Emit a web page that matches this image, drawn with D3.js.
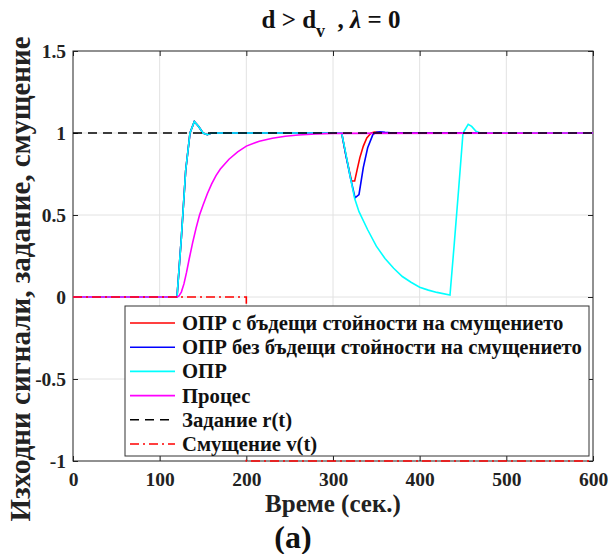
<!DOCTYPE html>
<html><head><meta charset="utf-8">
<script src="https://cdn.jsdelivr.net/npm/d3@7"></script>
<style>
html,body{margin:0;padding:0;background:#fff;}
</style></head>
<body><svg id="c" width="608" height="554"></svg>
<script>
// ---- data ----
const xTicks = [0,100,200,300,400,500,600];
const yTicks = [-1,-0.5,0,0.5,1,1.5];
const yTickLabels = ["-1","-0.5","0","0.5","1","1.5"];
const seriesNames = ["ОПР с бъдещи стойности на смущението","ОПР без бъдещи стойности на смущението","ОПР","Процес","Задание r(t)","Смущение v(t)"];

const redT  = [0,120,125,130,135,140,145,150,155,160,310,315,321.5,325,328,331,335,339,344,348,355,365,600];
const redV  = [0,0,0.36,0.77,1.0,1.07,1.04,1.0,0.99,1.0,1.0,0.86,0.707,0.707,0.78,0.85,0.92,0.97,1.0,1.005,1.002,1.0,1.0];
const blueT = [0,120,125,130,135,140,145,150,155,160,310,315,320,325.4,330,335,340,346,350,354,360,370,600];
const blueV = [0,0,0.36,0.77,1.0,1.07,1.04,1.0,0.99,1.0,1.0,0.86,0.73,0.605,0.625,0.79,0.91,0.99,1.005,1.008,1.004,1.0,1.0];
const cyanT = [0,120,125,130,135,140,145,150,155,160,310,315,320,325,330,340,350,360,370,380,390,400,410,420,435,440,445,450,456,460,465,470,475,600];
const cyanV = [0,0,0.36,0.77,1.0,1.07,1.04,1.0,0.99,1.0,1.0,0.87,0.73,0.6,0.52,0.41,0.31,0.235,0.175,0.125,0.09,0.06,0.042,0.028,0.012,0.33,0.66,1.0,1.053,1.04,1.01,1.0,1.0,1.0];
const procT = [0,120,122,125,128,131,134,138,142,146,150,155,160,165,170,180,190,200,215,230,245,260,280,300,600];
const procV = [0,0,0.005,0.03,0.08,0.15,0.23,0.33,0.42,0.5,0.56,0.63,0.69,0.74,0.78,0.84,0.885,0.92,0.95,0.968,0.98,0.988,0.994,0.998,1];
const refT  = [0,600];
const refV  = [1,1];
const distT = [0,200,200,600];
const distV = [0,0,-1,-1];

const FONT = "Liberation Serif";

// ---- layout ----
const svg = d3.select("#c");
const L = 73, T = 51, W = 520, H = 410;
const x = d3.scaleLinear().domain([0,600]).range([L, L+W]);
const y = d3.scaleLinear().domain([-1,1.5]).range([T+H, T]);

// grid
const g = svg.append("g");
g.selectAll(".gx").data(xTicks.slice(1,-1)).join("line")
  .attr("x1",d=>x(d)).attr("x2",d=>x(d)).attr("y1",T).attr("y2",T+H)
  .attr("stroke","#e2e2e2").attr("stroke-width",1);
g.selectAll(".gy").data(yTicks.slice(1,-1)).join("line")
  .attr("y1",d=>y(d)).attr("y2",d=>y(d)).attr("x1",L).attr("x2",L+W)
  .attr("stroke","#e2e2e2").attr("stroke-width",1);

const mk = (ts, vs) => ts.map((t,i)=>[t,vs[i]]);
const line = d3.line().x(d=>x(d[0])).y(d=>y(d[1]));
const series = [
  {d:mk(redT,redV), c:"#ff0000", dash:null},
  {d:mk(blueT,blueV), c:"#0000ff", dash:null},
  {d:mk(cyanT,cyanV), c:"#00ffff", dash:null},
  {d:mk(procT,procV), c:"#ff00ff", dash:null},
  {d:mk(refT,refV), c:"#000000", dash:"9,6"},
  {d:mk(distT,distV), c:"#ff0000", dash:"9,4,2,4"}
];

// axes
const fmt = (d)=>yTickLabels[yTicks.indexOf(d)];
const ax = svg.append("g").attr("transform",`translate(0,${T+H})`)
  .call(d3.axisBottom(x).tickValues(xTicks).tickSizeInner(-5).tickSizeOuter(0).tickFormat(d3.format("d")));
const axTop = svg.append("g").attr("transform",`translate(0,${T})`)
  .call(d3.axisTop(x).tickValues(xTicks).tickSizeInner(-5).tickSizeOuter(0).tickFormat(""));
const ay = svg.append("g").attr("transform",`translate(${L},0)`)
  .call(d3.axisLeft(y).tickValues(yTicks).tickSizeInner(-5).tickSizeOuter(0).tickFormat(fmt));
const ayR = svg.append("g").attr("transform",`translate(${L+W},0)`)
  .call(d3.axisRight(y).tickValues(yTicks).tickSizeInner(-5).tickSizeOuter(0).tickFormat(""));
[ax,axTop,ay,ayR].forEach(a=>{
  a.attr("font-family",FONT).attr("font-weight","bold");
  a.select(".domain").remove();
  a.selectAll("line").attr("stroke","#222");
});
ax.selectAll("text").attr("font-size",19.5).attr("y",25).attr("dy",0).attr("fill","#222");
ay.selectAll("text").attr("font-size",19.5).attr("x",-7).attr("dy","0.35em").attr("fill","#222");
svg.append("rect").attr("x",L).attr("y",T).attr("width",W).attr("height",H)
  .attr("fill","none").attr("stroke","#222").attr("stroke-width",1);

const plot = svg.append("g");
series.forEach(s=>{
  plot.append("path").attr("d",line(s.d)).attr("fill","none")
    .attr("stroke",s.c).attr("stroke-width",1.6)
    .attr("stroke-dasharray",s.dash);
});

// legend
const lg = svg.append("g").attr("font-family",FONT).attr("font-weight","bold");
const LX=125, LY=306, LW=464, LH=150;
lg.append("rect").attr("x",LX).attr("y",LY).attr("width",LW).attr("height",LH)
  .attr("fill","#fff").attr("stroke","#333").attr("stroke-width",1);
seriesNames.forEach((n,i)=>{
  const yy = LY+17+i*24.2;
  lg.append("line").attr("x1",LX+5).attr("x2",LX+50).attr("y1",yy).attr("y2",yy)
    .attr("stroke",series[i].c).attr("stroke-width",1.6).attr("stroke-dasharray",series[i].dash);
  lg.append("text").attr("x",LX+57).attr("y",yy+7).attr("font-size",20.7).attr("fill","#111").text(n);
});

// title
const tg = svg.append("g").attr("font-family",FONT).attr("font-weight","bold");
const tt = tg.append("text").attr("x",331).attr("y",28).attr("text-anchor","middle").attr("font-size",25).attr("fill","#111").attr("xml:space","preserve");
tt.append("tspan").text("d > d");
tt.append("tspan").attr("dy",9).attr("font-size",18).text("v");
tt.append("tspan").attr("dy",-9).text("  , ");
tt.append("tspan").attr("font-style","italic").text("λ");
tt.append("tspan").text(" = 0");

// axis labels
tg.append("text").attr("x",333).attr("y",512).attr("text-anchor","middle").attr("font-size",25).attr("fill","#222").text("Време (сек.)");
tg.append("text").attr("x",293).attr("y",548).attr("text-anchor","middle").attr("font-size",32).attr("fill","#111").text("(a)");
tg.append("text").attr("transform","translate(30,279) rotate(-90)").attr("text-anchor","middle").attr("font-size",29).attr("fill","#222").text("Изходни сигнали, задание, смущение");
</script></body></html>
